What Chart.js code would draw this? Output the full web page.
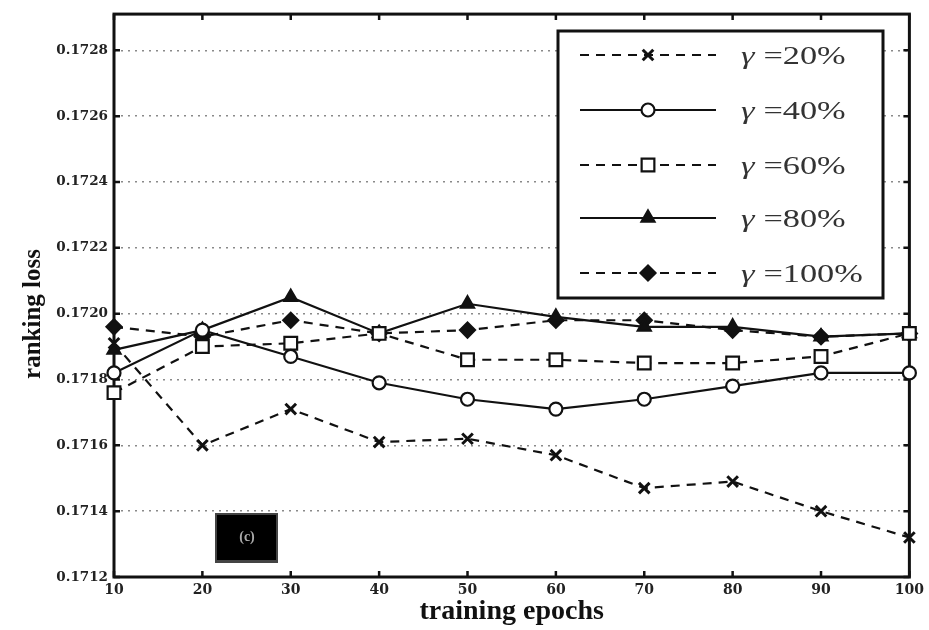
<!DOCTYPE html>
<html>
<head>
<meta charset="utf-8">
<script src="https://cdn.jsdelivr.net/npm/chart.js@4/dist/chart.umd.min.js"></script>
<style>
  html, body { margin: 0; padding: 0; background: #fff; }
  canvas { display: block; }
</style>
</head>
<body>
<canvas id="lossChart" width="929" height="630"></canvas>
<script>
// training epochs on the x axis
const epochs = [10, 20, 30, 40, 50, 60, 70, 80, 90, 100];
const yTicks = [0.1712, 0.1714, 0.1716, 0.1718, 0.1720, 0.1722, 0.1724, 0.1726, 0.1728];

// ranking loss for each gamma
const gamma20 = [0.17191, 0.17160, 0.17171, 0.17161, 0.17162, 0.17157, 0.17147, 0.17149, 0.17140, 0.17132];
const gamma40 = [0.17182, 0.17195, 0.17187, 0.17179, 0.17174, 0.17171, 0.17174, 0.17178, 0.17182, 0.17182];
const gamma60 = [0.17176, 0.17190, 0.17191, 0.17194, 0.17186, 0.17186, 0.17185, 0.17185, 0.17187, 0.17194];
const gamma80 = [0.17189, 0.17195, 0.17205, 0.17194, 0.17203, 0.17199, 0.17196, 0.17196, 0.17193, 0.17194];
const gamma100 = [0.17196, 0.17193, 0.17198, 0.17194, 0.17195, 0.17198, 0.17198, 0.17195, 0.17193, 0.17194];

const seriesLabels = ['20%', '40%', '60%', '80%', '100%'];

const INK = '#111';
const DASH = [9, 7];

function series(label, data, dashed, style, radius, filled) {
    return {
        label: label,
        data: data,
        borderColor: INK,
        borderWidth: 2.2,
        borderDash: dashed ? DASH : [],
        pointStyle: style,
        pointRadius: radius,
        pointHoverRadius: radius,
        pointBorderWidth: style === 'crossRot' ? 3 : 2.2,
        pointBorderColor: INK,
        pointBackgroundColor: filled ? INK : '#fff',
        tension: 0,
        fill: false,
        clip: false
    };
}

// inward ticks + heavy frame round the plot, y title
const framePlugin = {
    id: 'frame',
    beforeDatasetsDraw(chart) {
        const { ctx, chartArea: a, scales } = chart;
        ctx.save();
        ctx.strokeStyle = INK;
        ctx.lineWidth = 2.5;
        ctx.beginPath();
        epochs.forEach((e, i) => {
            const x = scales.x.getPixelForValue(i);
            ctx.moveTo(x, a.bottom); ctx.lineTo(x, a.bottom - 6);
            ctx.moveTo(x, a.top); ctx.lineTo(x, a.top + 6);
        });
        yTicks.forEach(v => {
            const y = scales.y.getPixelForValue(v);
            ctx.moveTo(a.left, y); ctx.lineTo(a.left + 6, y);
            ctx.moveTo(a.right, y); ctx.lineTo(a.right - 6, y);
        });
        ctx.stroke();
        ctx.lineWidth = 3;
        ctx.strokeRect(a.left, a.top, a.right - a.left, a.bottom - a.top);

        // y axis title, sits a little below the middle in the original
        ctx.translate(34, 314);
        ctx.rotate(-Math.PI / 2);
        ctx.fillStyle = INK;
        ctx.font = 'bold 25px "Liberation Serif"';
        ctx.textAlign = 'center';
        ctx.textBaseline = 'middle';
        ctx.fillText('ranking loss', 0, 0);
        ctx.restore();
    }
};

// legend box in the upper right and the "(c)" tag
const legendPlugin = {
    id: 'boxLegend',
    afterDraw(chart) {
        const { ctx } = chart;
        ctx.save();
        ctx.fillStyle = '#fff';
        ctx.fillRect(558, 31, 325, 267);
        ctx.strokeStyle = INK;
        ctx.lineWidth = 3;
        ctx.strokeRect(558, 31, 325, 267);

        const rows = [55, 110, 165, 218, 273];
        chart.data.datasets.forEach((ds, i) => {
            const y = rows[i];
            ctx.strokeStyle = INK;
            ctx.lineWidth = 2.2;
            ctx.setLineDash(ds.borderDash);
            ctx.beginPath();
            ctx.moveTo(580, y);
            ctx.lineTo(716, y);
            ctx.stroke();
            ctx.setLineDash([]);
            ctx.fillStyle = ds.pointBackgroundColor;
            ctx.strokeStyle = INK;
            ctx.lineWidth = ds.pointBorderWidth;
            Chart.helpers.drawPoint(ctx, {
                pointStyle: ds.pointStyle,
                radius: ds.pointRadius,
                rotation: 0,
                borderWidth: ds.pointBorderWidth
            }, 648, y);

            ctx.fillStyle = '#333';
            ctx.textBaseline = 'middle';
            ctx.textAlign = 'left';
            ctx.save();
            ctx.translate(741, y + 2);
            ctx.scale(1.32, 1);
            ctx.font = 'italic 26px "Liberation Serif"';
            ctx.fillText('\u03b3', 0, 0);
            ctx.font = '26px "Liberation Serif"';
            ctx.fillText('=' + ds.label, 17, 0);
            ctx.restore();
        });

        // "(c)" tag
        ctx.fillStyle = '#444';
        ctx.fillRect(215, 513, 63, 50);
        ctx.fillStyle = '#000';
        ctx.fillRect(217, 515, 59, 45);
        ctx.fillStyle = '#aaa';
        ctx.font = 'bold 14px "Liberation Serif"';
        ctx.textAlign = 'center';
        ctx.textBaseline = 'middle';
        ctx.fillText('(c)', 247, 537);
        ctx.restore();
    }
};

new Chart(document.getElementById('lossChart'), {
    type: 'line',
    data: {
        labels: epochs,
        datasets: [
            series(seriesLabels[0], gamma20, true, 'crossRot', 7.5, false),
            series(seriesLabels[1], gamma40, false, 'circle', 6.5, false),
            series(seriesLabels[2], gamma60, true, 'rect', 9, false),
            series(seriesLabels[3], gamma80, false, 'triangle', 7.5, true),
            series(seriesLabels[4], gamma100, true, 'rectRot', 7.5, true)
        ]
    },
    options: {
        responsive: false,
        devicePixelRatio: 1,
        animation: false,
        layout: { padding: { top: 11, right: 19, left: 0, bottom: 0 } },
        plugins: {
            legend: { display: false },
            tooltip: { enabled: false }
        },
        scales: {
            x: {
                offset: false,
                afterFit: s => { s.height = 53; },
                grid: { display: false, drawTicks: false },
                border: { display: false },
                ticks: {
                    padding: 5,
                    color: '#222',
                    maxRotation: 0,
                    font: { family: 'DejaVu Serif', weight: 'bold', size: 14 }
                },
                title: {
                    display: true,
                    text: 'training epochs',
                    color: '#111',
                    font: { family: 'Liberation Serif', weight: 'bold', size: 28 },
                    padding: { top: 0, bottom: 1 }
                }
            },
            y: {
                min: 0.1712,
                max: 0.17291,
                afterFit: s => { s.width = 114; },
                afterBuildTicks: s => { s.ticks = yTicks.map(v => ({ value: v })); },
                grid: {
                    color: '#8a8a8a',
                    lineWidth: 1.5,
                    drawTicks: false
                },
                border: { display: false, dash: [2, 5] },
                ticks: {
                    padding: 6,
                    color: '#222',
                    font: { family: 'DejaVu Serif', weight: 'bold', size: 13.5 },
                    callback: v => v.toFixed(4)
                },
                title: { display: false }
            }
        }
    },
    plugins: [framePlugin, legendPlugin]
});
</script>
</body>
</html>
